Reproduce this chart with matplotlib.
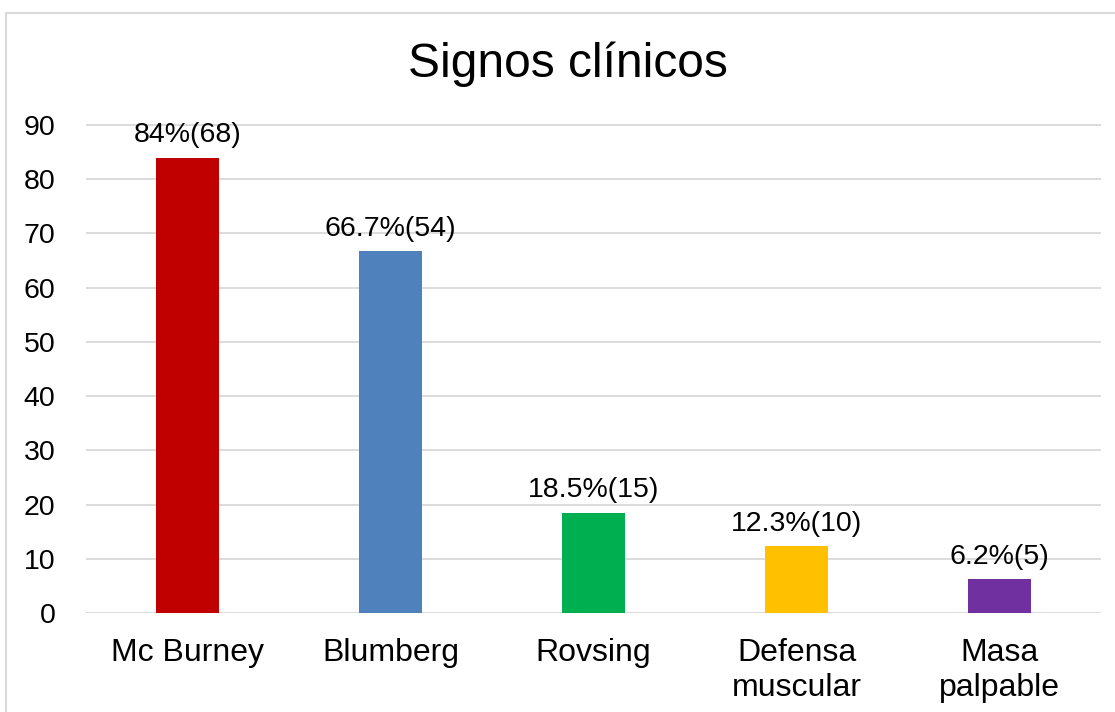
import matplotlib.pyplot as plt
from matplotlib.patches import Rectangle

categories = ['Mc Burney', 'Blumberg', 'Rovsing', 'Defensa\nmuscular', 'Masa\npalpable']
values = [84, 66.7, 18.5, 12.3, 6.2]
labels = ['84%(68)', '66.7%(54)', '18.5%(15)', '12.3%(10)', '6.2%(5)']
colors = ['#C00000', '#4F81BD', '#00B050', '#FFC000', '#7030A0']

plt.rcParams['font.family'] = ['Liberation Sans', 'DejaVu Sans']

fig = plt.figure(figsize=(11.15, 7.12), dpi=100)
ax = fig.add_axes([86/1115, 1 - 613/712, 1015/1115, 488/712 * 100/90])

x = range(len(categories))
bars = ax.bar(x, values, width=0.315, color=colors, zorder=3)
for b, lab in zip(bars, labels):
    ax.annotate(lab, (b.get_x() + b.get_width()/2, b.get_height()),
                xytext=(0, 7), textcoords='offset points',
                ha='center', va='bottom', fontsize=20.5)

ax.set_xlim(-0.5, 4.5)
ax.set_ylim(0, 100)
ax.set_yticks(range(0, 100, 10))
ax.grid(axis='y', color='#D9D9D9', lw=1.3, zorder=0)
for s in ax.spines.values():
    s.set_visible(False)
ax.tick_params(axis='both', length=0, labelsize=20.5)
ax.tick_params(axis='y', pad=22)
ax.tick_params(axis='x', pad=18)
ax.set_xticks(list(x))
ax.set_xticklabels(categories, fontsize=23, linespacing=1.2, va='top')
ax.set_yticklabels([str(v) for v in range(0, 100, 10)], ha='right')

fig.text(568/1115, 1 - 64/712, 'Signos clínicos', ha='center', va='center', fontsize=34.5)

fig.patches.append(Rectangle((6/1115, -0.1), 1.2, 1 - 13/712 + 0.1, transform=fig.transFigure,
                             fill=False, edgecolor='#D9D9D9', lw=1.5))

fig.savefig('out.png', dpi=100)
